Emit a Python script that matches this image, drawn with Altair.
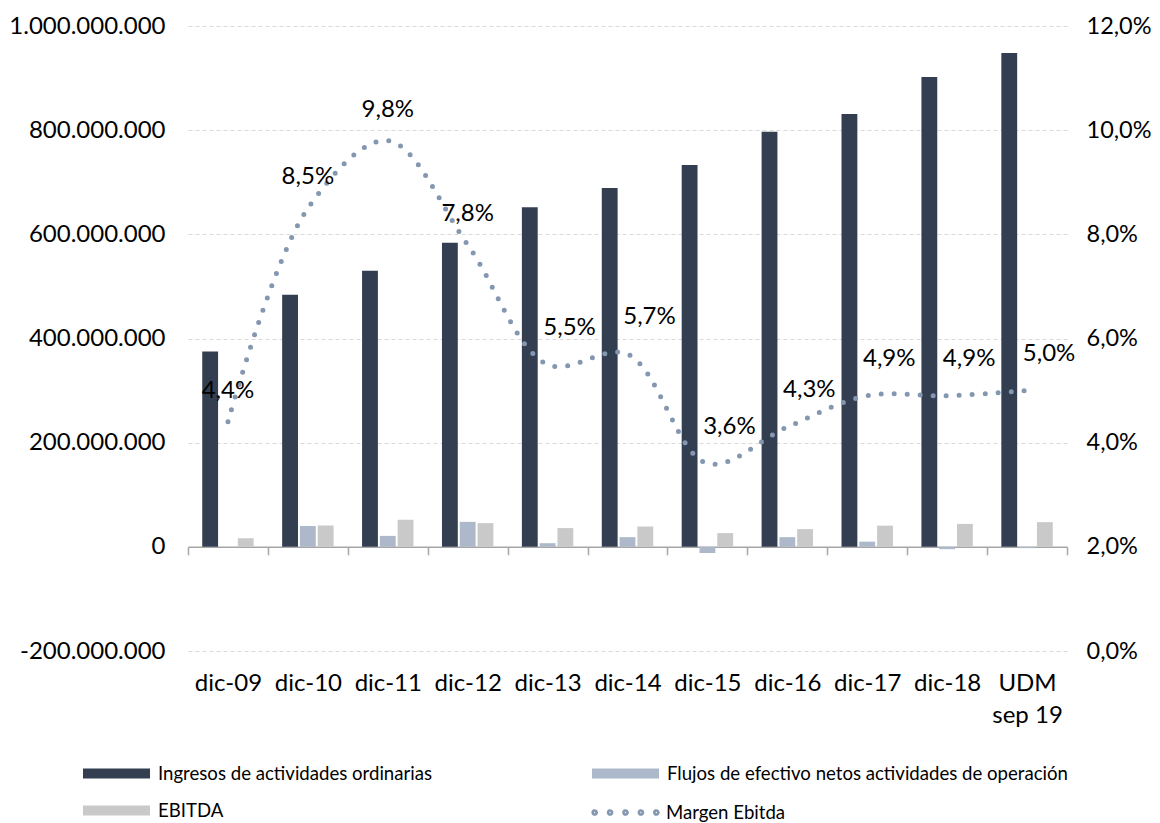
import altair as alt
import pandas as pd

categories = ["dic-09", "dic-10", "dic-11", "dic-12", "dic-13", "dic-14",
              "dic-15", "dic-16", "dic-17", "dic-18", "UDM sep 19"]
ingresos = [375e6, 484e6, 530e6, 584e6, 652e6, 689e6, 733e6, 797e6, 831e6, 902e6, 948e6]
flujos = [0, 40e6, 21e6, 48e6, 7e6, 18.6e6, -12e6, 18.6e6, 10e6, -4.5e6, -2.5e6]
ebitda = [16.5e6, 41e6, 52e6, 45.5e6, 36e6, 39e6, 26.4e6, 34e6, 40.7e6, 44e6, 47.4e6]
margen = [4.4, 8.5, 9.8, 7.8, 5.5, 5.7, 3.6, 4.3, 4.9, 4.9, 5.0]

S_ING = "Ingresos de actividades ordinarias"
S_FLU = "Flujos de efectivo netos actividades de operación"
S_EBI = "EBITDA"
S_MAR = "Margen Ebitda"
BAR_SERIES = [S_ING, S_FLU, S_EBI]

rows = []
for i, c in enumerate(categories):
    rows.append({"cat": c, "series": S_ING, "value": ingresos[i]})
    rows.append({"cat": c, "series": S_FLU, "value": flujos[i]})
    rows.append({"cat": c, "series": S_EBI, "value": ebitda[i]})
bars_df = pd.DataFrame(rows)
line_df = pd.DataFrame({"cat": categories, "series": S_MAR,
                        "m": [v / 100 for v in margen], "idx": list(range(len(categories)))})

FONT = "Lato"
W, H = 879, 625
YMIN, YMAX = -200e6, 1000e6
zero_offset = -H * (0 - YMIN) / (YMAX - YMIN)
AX = "#A6A6A6"
LEG_FS = 18.6

RECT = "M-1,-0.15H1V0.15H-1Z"
DOTS = "".join(
    "M{:.2f},0a0.04,0.04 0 1,0 0.08,0a0.04,0.04 0 1,0 -0.08,0".format(x - 0.04)
    for x in [-0.92, -0.46, 0.0, 0.46, 0.92]
)

x_enc = alt.X(
    "cat:N", sort=categories,
    scale=alt.Scale(paddingInner=0, paddingOuter=0),
    axis=alt.Axis(title=None, orient="bottom", offset=zero_offset, tickBand="extent",
                  tickSize=8, tickColor=AX, tickWidth=1.5, domainColor=AX, domainWidth=1.5,
                  labelFont=FONT, labelFontSize=24, labelColor="#000000", labelPadding=117,
                  labelAngle=0, labelLineHeight=32,
                  labelExpr="datum.value == 'UDM sep 19' ? ['UDM', 'sep 19'] : datum.label",
                  grid=False),
)

y_left = alt.Y(
    "value:Q",
    scale=alt.Scale(domain=[YMIN, YMAX], nice=False, zero=False),
    axis=alt.Axis(title=None, values=[-2e8, 0, 2e8, 4e8, 6e8, 8e8, 1e9], format=",d",
                  labelFont=FONT, labelFontSize=24, labelColor="#000000",
                  domain=False, ticks=False, tickSize=0, labelPadding=23,
                  grid=True, gridColor="#D9D9D9", gridDash=[4, 3], gridWidth=1),
)

y_right = alt.Y(
    "m:Q",
    scale=alt.Scale(domain=[0, 0.12], nice=False, zero=False),
    axis=alt.Axis(title=None, orient="right", values=[0, 0.02, 0.04, 0.06, 0.08, 0.10, 0.12],
                  format=".1%", labelFont=FONT, labelFontSize=23.5, labelColor="#000000",
                  domain=False, ticks=False, tickSize=0, labelPadding=19, grid=False),
)

x_off = alt.XOffset("series:N", scale=alt.Scale(domain=BAR_SERIES, paddingInner=0.11, paddingOuter=0.8))


def bar_layer(name, color, lx, ly):
    return alt.Chart(bars_df).transform_filter(alt.datum.series == name).mark_bar().encode(
        x=x_enc, xOffset=x_off, y=y_left,
        color=alt.Color("series:N", scale=alt.Scale(domain=[name], range=[color]),
                        legend=alt.Legend(title=None, orient="none", legendX=lx, legendY=ly,
                                          symbolType=RECT, symbolSize=4489, symbolStrokeWidth=0,
                                          labelFont=FONT, labelFontSize=LEG_FS, labelColor="#000000",
                                          labelOffset=8, padding=0, labelLimit=600)),
    )


LY1, LY2 = 714, 751
bars = alt.layer(
    bar_layer(S_ING, "#333F50", -105, LY1),
    bar_layer(S_FLU, "#ADB9CA", 404, LY1),
    bar_layer(S_EBI, "#C9C9C9", -105, LY2),
).resolve_scale(color="independent")

line = alt.Chart(line_df).mark_line(
    interpolate="catmull-rom", strokeWidth=5, strokeDash=[0, 13], strokeCap="round"
).encode(
    x=x_enc, y=y_right,
    stroke=alt.Stroke("series:N", scale=alt.Scale(domain=[S_MAR], range=["#8497B0"]),
                      legend=alt.Legend(title=None, orient="none", legendX=402, legendY=LY2,
                                        symbolType=DOTS, symbolSize=4489, symbolStrokeWidth=4,
                                        symbolDash=[1, 0],
                                        labelFont=FONT, labelFontSize=LEG_FS, labelColor="#000000",
                                        labelOffset=5, padding=0, labelLimit=600)),
)

txt_a = alt.Chart(line_df).transform_filter(alt.datum.idx < 4).mark_text(
    dy=-31, font=FONT, fontSize=24, color="#000000"
).encode(x=x_enc, y=y_right, text=alt.Text("m:Q", format=".1%"))

txt_b = alt.Chart(line_df).transform_filter(alt.datum.idx >= 4).mark_text(
    dx=22, dy=-37, font=FONT, fontSize=24, color="#000000"
).encode(x=x_enc, y=y_right, text=alt.Text("m:Q", format=".1%"))

right = alt.layer(line, txt_a, txt_b)

chart = alt.layer(bars, right).resolve_scale(
    y="independent", color="independent", stroke="independent"
).properties(
    width=W, height=H,
    padding={"left": 180, "top": 18, "right": 85, "bottom": 172},
    autosize=alt.AutoSizeParams(type="none"),
).configure(
    locale={"number": {"decimal": ",", "thousands": ".", "grouping": [3],
                       "currency": ["", " €"], "minus": "-"}}
).configure_view(stroke=None)

chart.save("out.html", embed_options={"renderer": "svg", "actions": False})
